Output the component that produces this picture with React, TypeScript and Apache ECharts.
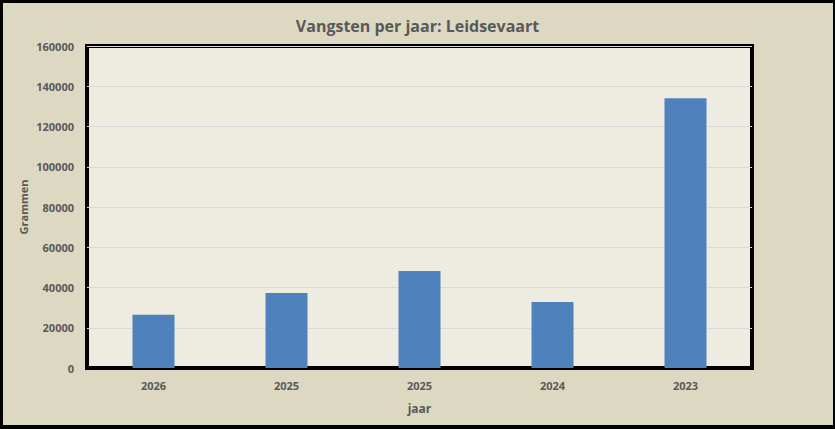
import React, { useEffect, useRef } from "react";
import * as echarts from "echarts";

const categories = ["2026", "2025", "2025", "2024", "2023"];
const values = [26500, 37300, 48200, 32800, 134000];
const yTicks = { min: 0, max: 160000, interval: 20000 };

const FONT = "'Open Sans', 'Noto Sans', sans-serif";
const TEXT = "#595959";

export default function App() {
  const ref = useRef<HTMLDivElement>(null);
  useEffect(() => {
    if (!ref.current) return;
    const chart = echarts.init(ref.current, null, { renderer: "svg" });
    chart.setOption({
      animation: false,
      backgroundColor: "#ddd8c2",
      title: {
        text: "Vangsten per jaar: Leidsevaart",
        left: "center",
        top: 13,
        textStyle: { fontFamily: FONT, fontSize: 16, fontWeight: "bold", color: TEXT },
      },
      grid: {
        left: 87,
        right: 83,
        top: 46,
        bottom: 61,
        show: true,
        backgroundColor: "#eeebe0",
        borderColor: "#000",
        borderWidth: 4,
      },
      xAxis: {
        type: "category",
        data: categories,
        name: "jaar",
        nameLocation: "middle",
        nameGap: 34,
        nameMoveOverlap: false,
        nameTextStyle: { fontFamily: FONT, fontSize: 12, fontWeight: "bold", color: TEXT },
        axisLine: { show: true, lineStyle: { color: "#000", width: 2 } },
        axisTick: { show: false },
        axisLabel: { fontFamily: FONT, fontSize: 11, fontWeight: "bold", color: TEXT, margin: 12 },
      },
      yAxis: {
        type: "value",
        min: yTicks.min,
        max: yTicks.max,
        interval: yTicks.interval,
        name: "Grammen",
        nameLocation: "middle",
        nameGap: 58,
        nameMoveOverlap: false,
        nameTextStyle: { fontFamily: FONT, fontSize: 11, fontWeight: "bold", color: TEXT },
        axisLine: { show: false },
        axisTick: { show: false },
        splitLine: { lineStyle: { color: "#d9d9d9", width: 1 } },
        axisLabel: {
          fontFamily: FONT,
          fontSize: 11,
          fontWeight: "bold",
          color: TEXT,
          margin: 13,
          formatter: (v: number) => String(v),
        },
      },
      series: [
        {
          type: "bar",
          data: values,
          barWidth: 42,
          itemStyle: { color: "#4f81bd" },
        },
      ],
    });
    return () => chart.dispose();
  }, []);
  return (
    <div style={{ position: "absolute", left: 0, top: 0, width: 835, height: 429 }}>
      <div ref={ref} style={{ position: "absolute", left: 0, top: 0, width: 835, height: 429 }} />
      <div
        style={{
          position: "absolute",
          left: 0,
          top: 0,
          width: 835,
          height: 429,
          boxSizing: "border-box",
          borderStyle: "solid",
          borderColor: "#000",
          borderWidth: "3px 2px 4px 3px",
          pointerEvents: "none",
        }}
      />
    </div>
  );
}
